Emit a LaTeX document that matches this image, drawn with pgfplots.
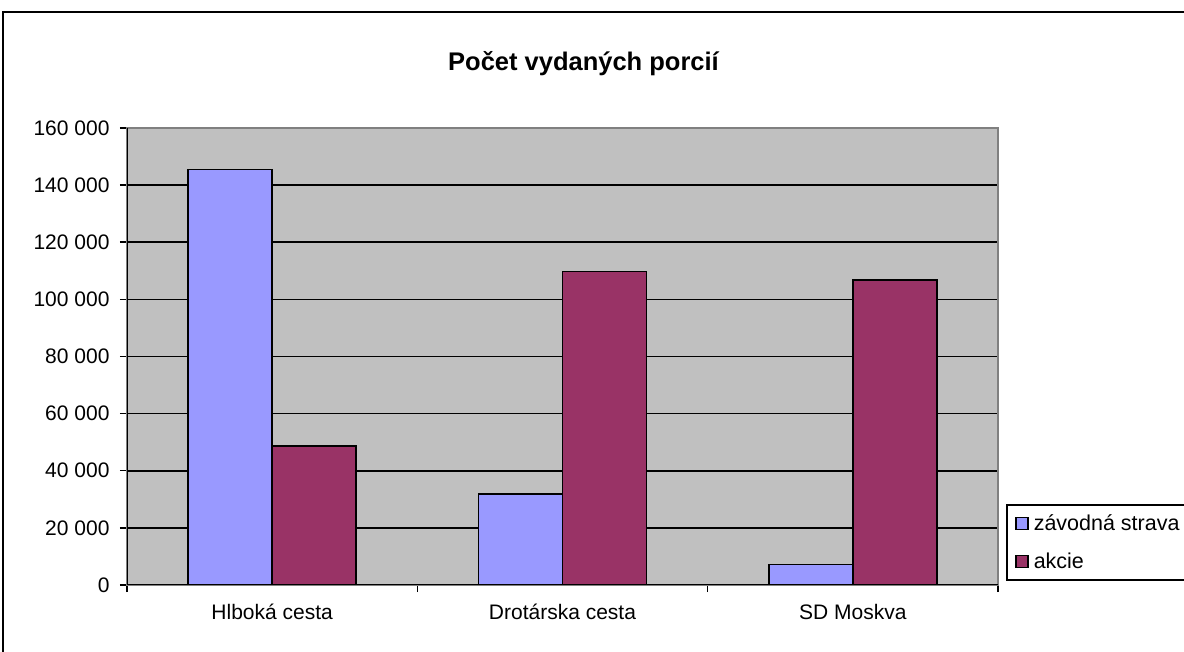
\documentclass[border=0pt]{standalone}
\usepackage{pgfplots}
\pgfplotsset{compat=1.18}
\usepackage{fontspec}
\setmainfont{Liberation Sans}
\definecolor{zav}{HTML}{9999FF}
\definecolor{akc}{HTML}{993366}
\definecolor{bg}{HTML}{C0C0C0}
\definecolor{brd}{HTML}{808080}
\begin{document}
\begin{tikzpicture}
\path[use as bounding box] (0,0) rectangle (1184pt,651pt);
\draw[line width=2pt] (3pt,-20pt) -- (3pt,639pt) -- (1200pt,639pt);
\node[font=\fontsize{25.5}{30}\selectfont\bfseries] at (583.5pt,587pt) {Počet vydaných porcií};
\begin{axis}[
  at={(127pt,66pt)}, anchor=south west,
  width=871pt, height=457pt, scale only axis,
  ybar=0pt, bar width=84pt,
  xmin=-0.5, xmax=2.5, ymin=0, ymax=160000,
  xtick={-0.5,0.5,1.5,2.5}, xticklabels={},
  extra x ticks={0,1,2},
  extra x tick labels={Hlboká cesta, Drotárska cesta, SD Moskva},
  extra x tick style={major tick length=0pt, tick label style={yshift=-16pt}},
  ytick={0,20000,40000,60000,80000,100000,120000,140000,160000},
  yticklabels={0,20 000,40 000,60 000,80 000,100 000,120 000,140 000,160 000},
  yticklabel style={xshift=-7pt},
  ymajorgrids, grid style={black, line width=1.6pt},
  tick align=outside, tick pos=left, major tick length=7pt,
  tick style={black, line width=1.5pt},
  axis background/.style={fill=bg},
  axis line style={draw=brd, line width=1.5pt},
  tick label style={font=\fontsize{21}{25}\selectfont},
  scaled y ticks=false,
  legend style={at={(1.0092,0.1772)}, anchor=north west, draw=black, line width=1.5pt,
    fill=white, font=\fontsize{21.5}{25}\selectfont, row sep=17pt, inner ysep=8pt, inner xsep=3pt},
  legend cell align=left,
  legend image code/.code={\path[draw=none,fill=none] (0pt,0pt) -- (22pt,0pt);
    \draw[#1,draw=black,line width=1.5pt] (6pt,-6pt) rectangle (18pt,6pt);},
]
\addplot[fill=zav, draw=black, line width=1.5pt] coordinates {(0,145500) (1,31900) (2,7200)};
\addplot[fill=akc, draw=black, line width=1.5pt] coordinates {(0,48700) (1,109700) (2,106800)};
\legend{závodná strava, akcie}
\draw[black, line width=2pt] (rel axis cs:0,1) -- (rel axis cs:0,0) -- (rel axis cs:1,0);
\end{axis}
\end{tikzpicture}
\end{document}
